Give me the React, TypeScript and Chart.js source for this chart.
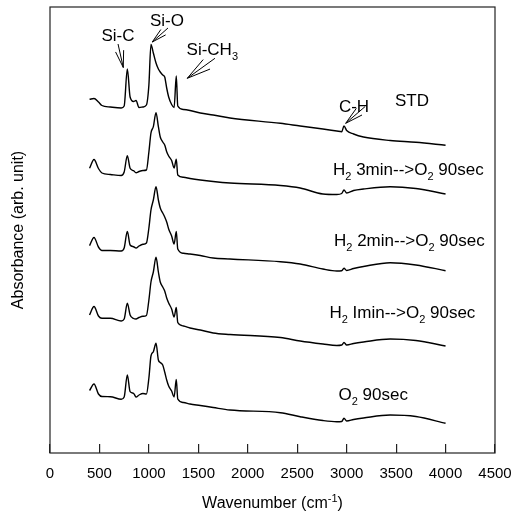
import React, { useEffect, useRef } from "react";
import { Chart, registerables } from "chart.js";

Chart.register(...registerables);

const FONT = '"Liberation Sans", Arial, Helvetica, sans-serif';

// Shared wavenumber grid (cm-1)
const WAVENUMBER = [
  400, 445, 490, 525, 610, 720, 750, 782, 810, 845, 870, 900, 940, 975, 1000,
  1021, 1045, 1072, 1096, 1115, 1140, 1160, 1180, 1200, 1230, 1255, 1277, 1292,
  1350, 1416, 1520, 1650, 1820, 2330, 2530, 2760, 2900, 2950, 2973, 3000, 3070,
  3170, 3440, 3700, 4000,
];

// Stacked absorbance spectra (arb. unit, with vertical offsets)
const STD = [
  3.537, 3.545, 3.51, 3.475, 3.46, 3.45, 3.47, 3.84, 3.56, 3.515, 3.525, 3.455,
  3.46, 3.48, 3.68, 4.085, 4.0, 3.9, 3.84, 3.81, 3.78, 3.76, 3.65, 3.56, 3.485,
  3.455, 3.77, 3.47, 3.435, 3.425, 3.4, 3.38, 3.35, 3.297, 3.27, 3.24, 3.22,
  3.213, 3.27, 3.225, 3.19, 3.16, 3.125, 3.107, 3.077,
];
const H2_3MIN = [
  2.847, 2.935, 2.845, 2.8, 2.785, 2.775, 2.81, 2.973, 2.847, 2.823, 2.803,
  2.815, 2.825, 2.83, 3.01, 3.2, 3.263, 3.403, 3.263, 3.16, 3.11, 3.08, 3.013,
  2.97, 2.925, 2.85, 2.937, 2.78, 2.757, 2.745, 2.73, 2.715, 2.7, 2.675, 2.65,
  2.59, 2.585, 2.595, 2.63, 2.6, 2.625, 2.64, 2.663, 2.645, 2.59,
];
const H2_2MIN = [
  2.073, 2.155, 2.06, 2.025, 2.025, 2.02, 2.05, 2.215, 2.08, 2.063, 2.05, 2.07,
  2.087, 2.1, 2.25, 2.43, 2.53, 2.663, 2.53, 2.45, 2.4, 2.36, 2.31, 2.24, 2.17,
  2.09, 2.215, 2.04, 1.997, 1.99, 1.975, 1.95, 1.94, 1.913, 1.89, 1.84, 1.82,
  1.823, 1.847, 1.825, 1.845, 1.865, 1.903, 1.88, 1.823,
];
const H2_1MIN = [
  1.38, 1.465, 1.37, 1.347, 1.347, 1.32, 1.34, 1.497, 1.38, 1.345, 1.34, 1.355,
  1.367, 1.375, 1.53, 1.71, 1.81, 1.957, 1.81, 1.71, 1.66, 1.62, 1.55, 1.5,
  1.44, 1.36, 1.455, 1.305, 1.27, 1.25, 1.23, 1.2, 1.185, 1.155, 1.12, 1.09,
  1.075, 1.08, 1.105, 1.08, 1.095, 1.11, 1.14, 1.125, 1.07,
];
const O2_90SEC = [
  0.625, 0.69, 0.59, 0.565, 0.563, 0.537, 0.56, 0.78, 0.613, 0.597, 0.56, 0.58,
  0.595, 0.59, 0.75, 0.97, 1.013, 1.097, 0.93, 0.905, 0.88, 0.81, 0.73, 0.67,
  0.62, 0.56, 0.735, 0.54, 0.505, 0.49, 0.475, 0.455, 0.43, 0.403, 0.363, 0.325,
  0.313, 0.315, 0.347, 0.32, 0.335, 0.35, 0.38, 0.365, 0.297,
];

const SERIES_NAMES = ["STD", "H2 3min->O2 90sec", "H2 2min->O2 90sec", "H2 Imin->O2 90sec", "O2 90sec"];
const SERIES = [STD, H2_3MIN, H2_2MIN, H2_1MIN, O2_90SEC];

const X_TICK_STEP = 500;
const X_MIN = 0;
const X_MAX = 4500;
const Y_MIN = 0;
const Y_MAX = 4.46;

type Seg = { t: string; sub?: boolean; sup?: boolean };

// Curve labels: segments, anchor (wavenumber, absorbance), alignment
const LABELS: { segs: Seg[]; x: number; y: number; align: "left" | "center" }[] = [
  { segs: [{ t: "Si-C" }], x: 688, y: 4.12, align: "center" },
  { segs: [{ t: "Si-O" }], x: 1183, y: 4.27, align: "center" },
  { segs: [{ t: "Si-CH" }, { t: "3", sub: true }], x: 1381, y: 3.98, align: "left" },
  { segs: [{ t: "C-H" }], x: 3074, y: 3.41, align: "center" },
  { segs: [{ t: "STD" }], x: 3661, y: 3.47, align: "center" },
  {
    segs: [{ t: "H" }, { t: "2", sub: true }, { t: " 3min-->O" }, { t: "2", sub: true }, { t: " 90sec" }],
    x: 2862, y: 2.78, align: "left",
  },
  {
    segs: [{ t: "H" }, { t: "2", sub: true }, { t: " 2min-->O" }, { t: "2", sub: true }, { t: " 90sec" }],
    x: 2872, y: 2.07, align: "left",
  },
  {
    segs: [{ t: "H" }, { t: "2", sub: true }, { t: " Imin-->O" }, { t: "2", sub: true }, { t: " 90sec" }],
    x: 2826, y: 1.35, align: "left",
  },
  { segs: [{ t: "O" }, { t: "2", sub: true }, { t: " 90sec" }], x: 2917, y: 0.53, align: "left" },
];

// Pointer arrows: tail (x0, y0) -> tip (x1, y1) in data units
const ARROWS = [
  { x0: 688, y0: 4.09, x1: 741, y1: 3.855 },
  { x0: 1193, y0: 4.25, x1: 1034, y1: 4.11 },
  { x0: 1668, y0: 3.947, x1: 1388, y1: 3.747 },
  { x0: 3185, y0: 3.463, x1: 2990, y1: 3.297 },
];

const X_TITLE: Seg[] = [{ t: "Wavenumber (cm" }, { t: "-1", sup: true }, { t: ")" }];
const Y_TITLE = "Absorbance (arb. unit)";

function drawRich(ctx: CanvasRenderingContext2D, segs: Seg[], x: number, y: number, align: string, size: number) {
  const small = Math.round(size * 0.66);
  let w = 0;
  for (const s of segs) {
    ctx.font = `${s.sub || s.sup ? small : size}px ${FONT}`;
    w += ctx.measureText(s.t).width;
  }
  let cx = align === "center" ? x - w / 2 : align === "right" ? x - w : x;
  ctx.textAlign = "left";
  ctx.textBaseline = "alphabetic";
  for (const s of segs) {
    const sz = s.sub || s.sup ? small : size;
    ctx.font = `${sz}px ${FONT}`;
    const dy = s.sub ? size * 0.32 : s.sup ? -size * 0.4 : 0;
    ctx.fillText(s.t, cx, y + dy);
    cx += ctx.measureText(s.t).width;
  }
}

const decorations = {
  id: "decorations",
  afterDraw(chart: any) {
    const { ctx, chartArea, scales } = chart;
    const xs = scales.x;
    const ys = scales.y;
    ctx.save();
    // frame
    ctx.strokeStyle = "#222";
    ctx.lineWidth = 1.2;
    ctx.strokeRect(chartArea.left, chartArea.top, chartArea.right - chartArea.left, chartArea.bottom - chartArea.top);

    // arrows
    ctx.strokeStyle = "#000";
    ctx.lineWidth = 1;
    for (const a of ARROWS) {
      const px0 = xs.getPixelForValue(a.x0);
      const py0 = ys.getPixelForValue(a.y0);
      const px1 = xs.getPixelForValue(a.x1);
      const py1 = ys.getPixelForValue(a.y1);
      const ang = Math.atan2(py0 - py1, px0 - px1);
      const len = Math.hypot(px0 - px1, py0 - py1) * 0.72;
      const spread = 0.24;
      ctx.beginPath();
      ctx.moveTo(px0, py0);
      ctx.lineTo(px1, py1);
      ctx.moveTo(px1 + Math.cos(ang + spread) * len, py1 + Math.sin(ang + spread) * len);
      ctx.lineTo(px1, py1);
      ctx.lineTo(px1 + Math.cos(ang - spread) * len, py1 + Math.sin(ang - spread) * len);
      ctx.stroke();
    }

    // labels
    ctx.fillStyle = "#000";
    for (const l of LABELS) {
      drawRich(ctx, l.segs, xs.getPixelForValue(l.x), ys.getPixelForValue(l.y), l.align, 17);
    }

    // x axis title
    drawRich(ctx, X_TITLE, (chartArea.left + chartArea.right) / 2, 508, "center", 16);
    ctx.restore();
  },
};

export default function App() {
  const ref = useRef<HTMLCanvasElement>(null);

  useEffect(() => {
    document.body.style.margin = "0";
    const canvas = ref.current;
    if (!canvas) return;
    const chart = new Chart(canvas, {
      type: "line",
      data: {
        datasets: SERIES.map((vals, i) => ({
          label: SERIES_NAMES[i],
          data: WAVENUMBER.map((x, j) => ({ x, y: vals[j] })),
          borderColor: "#000",
          borderWidth: 1.4,
          pointRadius: 0,
          fill: false,
          cubicInterpolationMode: "monotone" as const,
        })),
      },
      options: {
        responsive: false,
        animation: false,
        devicePixelRatio: 1,
        layout: { padding: { top: 7, right: 21, left: 0, bottom: 0 } },
        plugins: { legend: { display: false }, tooltip: { enabled: false } },
        events: [],
        scales: {
          x: {
            type: "linear",
            min: X_MIN,
            max: X_MAX,
            afterFit: (s: any) => {
              s.height = 64;
              s.paddingLeft = 0;
              s.paddingRight = 0;
            },
            ticks: {
              stepSize: X_TICK_STEP,
              color: "#000",
              padding: 21,
              maxRotation: 0,
              font: { family: FONT, size: 15 },
              callback: (v: any) => String(v),
            },
            grid: {
              display: true,
              drawOnChartArea: false,
              drawTicks: true,
              tickLength: -9,
              color: "#222",
              lineWidth: 1.2,
            },
            border: { display: false },
          },
          y: {
            type: "linear",
            min: Y_MIN,
            max: Y_MAX,
            afterFit: (s: any) => {
              s.width = 50;
              s.paddingTop = 0;
              s.paddingBottom = 0;
            },
            ticks: { display: false },
            grid: { display: false },
            border: { display: false },
            title: {
              display: true,
              text: Y_TITLE,
              color: "#000",
              font: { family: FONT, size: 16 },
              padding: { top: 9, bottom: 0 },
            },
          },
        },
      },
      plugins: [decorations],
    });
    return () => chart.destroy();
  }, []);

  return <canvas ref={ref} width={516} height={517} style={{ display: "block", width: 516, height: 517 }} />;
}
